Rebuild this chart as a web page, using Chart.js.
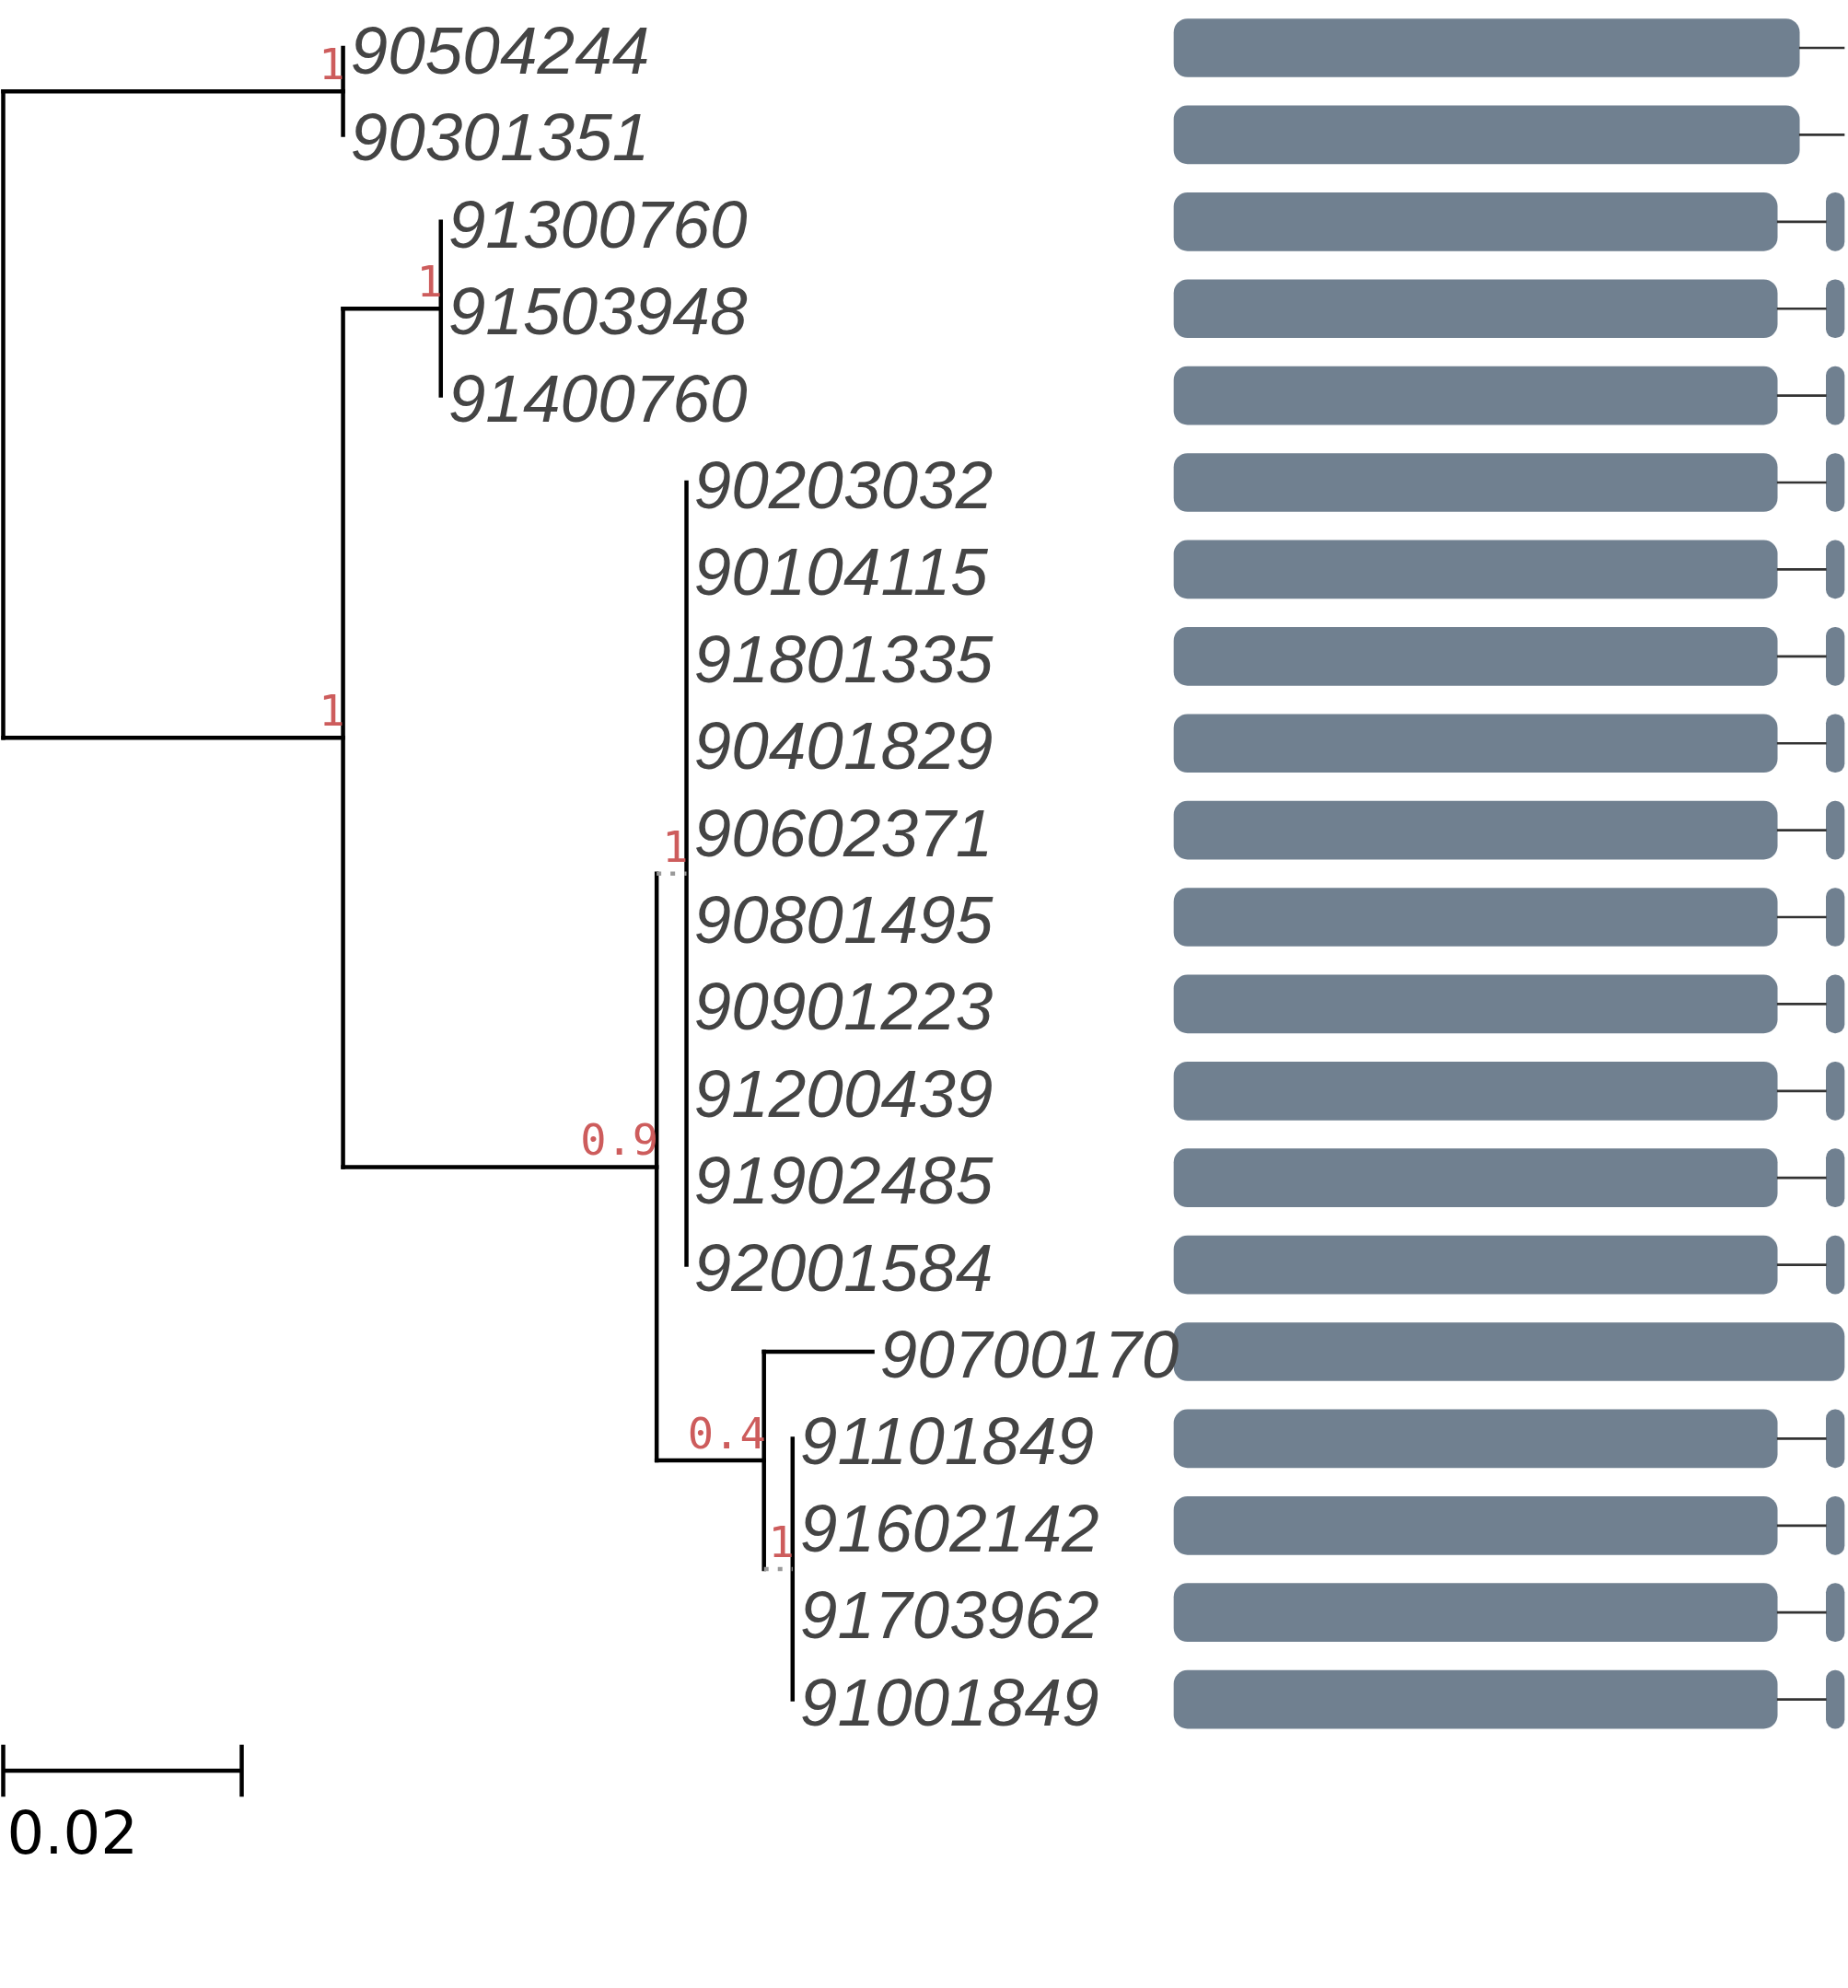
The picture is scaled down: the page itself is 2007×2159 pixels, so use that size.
<!DOCTYPE html>
<html>
<head>
<meta charset="utf-8">
<script src="https://cdn.jsdelivr.net/npm/chart.js@4.4.1/dist/chart.umd.min.js"></script>
<style>
  html, body { margin: 0; padding: 0; background: #fff; }
  #wrap { width: 2007px; height: 2159px; position: relative; }
</style>
</head>
<body>
<div id="wrap"><canvas id="treeChart"></canvas></div>
<script>
// leaves, top to bottom
const leafNames = ['90504244', '90301351', '91300760', '91503948', '91400760',
  '90203032', '90104115', '91801335', '90401829', '90602371', '90801495',
  '90901223', '91200439', '91902485', '92001584', '90700170', '91101849',
  '91602142', '91703962', '91001849'];
const leafParent = ['A', 'A', 'C', 'C', 'C', 'E', 'E', 'E', 'E', 'E', 'E',
  'E', 'E', 'E', 'E', 'F', 'G', 'G', 'G', 'G'];
const leafLength = [0, 0, 0, 0, 0, 0, 0, 0, 0, 0, 0, 0, 0, 0, 0, 0.0091, 0, 0, 0, 0];

// internal nodes
const nodeIds = ['root', 'A', 'B', 'C', 'D', 'E', 'F', 'G'];
const nodeParent = [null, 'root', 'root', 'B', 'B', 'D', 'D', 'F'];
const nodeLength = [0, 0.0285, 0.0285, 0.0082, 0.0263, 0.0025, 0.0090, 0.0024];
const nodeSupport = [null, 1, 1, 1, 0.9, 1, 0.4, 1];
const dottedNodes = ['E', 'G'];

// gene models (relative position, 0-1000)
const geneLength = [1000, 1000, 1000, 1000, 1000, 1000, 1000, 1000, 1000, 1000,
  1000, 1000, 1000, 1000, 1000, 1000, 1000, 1000, 1000, 1000];
const exon1End = [933, 933, 900, 900, 900, 900, 900, 900, 900, 900,
  900, 900, 900, 900, 900, 1000, 900, 900, 900, 900];
const exon2Start = [null, null, 973, 973, 973, 973, 973, 973, 973, 973,
  973, 973, 973, 973, 973, null, 973, 973, 973, 973];

const scaleBarLength = 0.02;
const scaleBarLabel = '0.02';

function nodeX(id) {
  const i = nodeIds.indexOf(id);
  if (nodeParent[i] === null) return 0;
  return nodeX(nodeParent[i]) + nodeLength[i];
}

function childYs(id) {
  const ys = [];
  leafParent.forEach((p, i) => { if (p === id) ys.push(i); });
  nodeParent.forEach((p, i) => { if (p === id) ys.push(nodeY(nodeIds[i])); });
  return ys;
}

function nodeY(id) {
  const ys = childYs(id);
  return (Math.min(...ys) + Math.max(...ys)) / 2;
}

function lineSet(points, dotted, cap) {
  return {
    type: 'line',
    data: points,
    xAxisID: 'x',
    yAxisID: 'y',
    borderColor: dotted ? '#999999' : '#000000',
    borderWidth: 4.5,
    borderDash: dotted ? [5, 10] : [],
    borderCapStyle: cap || (dotted ? 'butt' : 'square'),
    pointRadius: 0,
    fill: false,
    clip: false
  };
}

const datasets = [];

// horizontal branches of internal nodes
nodeIds.forEach((id, i) => {
  if (nodeParent[i] === null) return;
  const y = nodeY(id);
  datasets.push(lineSet([{ x: nodeX(nodeParent[i]), y: y }, { x: nodeX(id), y: y }],
    dottedNodes.includes(id)));
});

// horizontal branches of leaves
leafNames.forEach((name, i) => {
  if (leafLength[i] <= 0) return;
  const px = nodeX(leafParent[i]);
  datasets.push(lineSet([{ x: px, y: i }, { x: px + leafLength[i], y: i }], false));
});

// vertical lines
nodeIds.forEach((id) => {
  const ys = childYs(id);
  const x = nodeX(id);
  datasets.push(lineSet([{ x: x, y: Math.min(...ys) }, { x: x, y: Math.max(...ys) }], false));
});

// scale bar
const barRow = leafNames.length - 1 + 0.82;
datasets.push(lineSet([{ x: 0, y: barRow }, { x: scaleBarLength, y: barRow }], false, 'butt'));
datasets.push(lineSet([{ x: 0, y: barRow - 0.3 }, { x: 0, y: barRow + 0.3 }], false, 'butt'));
datasets.push(lineSet([{ x: scaleBarLength, y: barRow - 0.3 }, { x: scaleBarLength, y: barRow + 0.3 }], false, 'butt'));

// gene models
function barSet(data, thickness, radius, color) {
  return {
    type: 'bar',
    data: data,
    indexAxis: 'y',
    xAxisID: 'x2',
    yAxisID: 'y',
    grouped: false,
    barThickness: thickness,
    borderRadius: radius,
    borderSkipped: false,
    backgroundColor: color
  };
}

const exon1Data = leafNames.map((n, i) => ({ x: [0, exon1End[i]], y: i }));
const intronData = [];
const exon2Data = [];
leafNames.forEach((n, i) => {
  if (exon1End[i] < geneLength[i]) {
    intronData.push({ x: [exon1End[i], exon2Start[i] !== null ? exon2Start[i] : geneLength[i]], y: i });
  }
  if (exon2Start[i] !== null) {
    exon2Data.push({ x: [exon2Start[i], geneLength[i]], y: i });
  }
});
datasets.push(barSet(intronData, 2, 0, '#333333'));
datasets.push(barSet(exon1Data, 63, 15, '#708090'));
datasets.push(barSet(exon2Data, 63, 11, '#708090'));

const labelPlugin = {
  id: 'treeLabels',
  afterDatasetsDraw(chart) {
    const ctx = chart.ctx;
    const sx = chart.scales.x;
    const sy = chart.scales.y;
    ctx.save();

    // leaf names
    ctx.font = 'italic 73px "Liberation Sans", Arial, sans-serif';
    ctx.fillStyle = '#444444';
    ctx.textAlign = 'left';
    ctx.textBaseline = 'alphabetic';
    leafNames.forEach((name, i) => {
      const x = nodeX(leafParent[i]) + leafLength[i];
      ctx.fillText(name, sx.getPixelForValue(x) + 8, sy.getPixelForValue(i) + 28);
    });

    // support values
    ctx.font = '47px "DejaVu Sans Mono", monospace';
    ctx.fillStyle = '#cd5c5c';
    ctx.textAlign = 'right';
    nodeIds.forEach((id, i) => {
      if (nodeSupport[i] === null) return;
      ctx.fillText(String(nodeSupport[i]), sx.getPixelForValue(nodeX(id)) + 2,
        sy.getPixelForValue(nodeY(id)) - 13);
    });

    // scale bar label
    ctx.font = '64px "DejaVu Sans", sans-serif';
    ctx.fillStyle = '#000000';
    ctx.textAlign = 'left';
    ctx.fillText(scaleBarLabel, sx.getPixelForValue(0) + 4, sy.getPixelForValue(barRow + 0.95));
    ctx.restore();
  }
};

new Chart(document.getElementById('treeChart'), {
  type: 'scatter',
  data: { datasets: datasets },
  options: {
    responsive: true,
    maintainAspectRatio: false,
    animation: false,
    layout: { padding: 0 },
    plugins: {
      legend: { display: false },
      tooltip: { enabled: false }
    },
    scales: {
      x: { type: 'linear', min: -0.00027, max: 0.15471, display: false, offset: false },
      x2: { type: 'linear', axis: 'x', position: 'bottom', min: -1751.4, max: 1005.5, display: false, offset: false },
      y: { type: 'linear', min: -0.551, max: 22.32, reverse: true, display: false, offset: false }
    }
  },
  plugins: [labelPlugin]
});
</script>
</body>
</html>
